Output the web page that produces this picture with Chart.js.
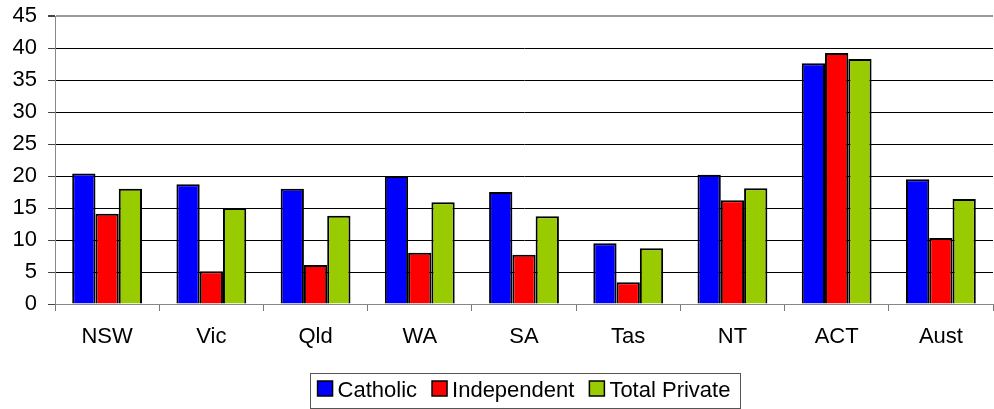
<!DOCTYPE html>
<html>
<head>
<meta charset="utf-8">
<script src="https://cdn.jsdelivr.net/npm/chart.js@4/dist/chart.umd.min.js"></script>
<style>
  html, body { margin: 0; padding: 0; background: #fff; }
  #wrap { width: 994px; height: 409px; }
</style>
</head>
<body>
<div id="wrap"><canvas id="myChart" width="994" height="409"></canvas></div>
<script>
// datos
let categorias = ["NSW", "Vic", "Qld", "WA", "SA", "Tas", "NT", "ACT", "Aust"];
let catholic = [20.4, 18.7, 18.0, 20.0, 17.5, 9.5, 20.2, 37.6, 19.5];
let independent = [14.1, 5.1, 6.1, 8.0, 7.7, 3.4, 16.2, 39.2, 10.3];
let totalPrivate = [18.0, 15.0, 13.8, 15.9, 13.7, 8.7, 18.1, 38.3, 16.4];
let yTicks = [0, 5, 10, 15, 20, 25, 30, 35, 40, 45];

const fuente = "'Liberation Sans', Arial, sans-serif";

// leyenda con marco, estilo Excel (la de Chart.js deja demasiado hueco)
const excelLegend = {
	id: 'excelLegend',
	afterDraw(chart) {
		let ctx = chart.ctx;
		let sets = chart.data.datasets;
		let area = chart.chartArea;
		ctx.save();
		ctx.font = "22px " + fuente;
		let box = 15, gap = 5, sep = 15;
		let widths = sets.map(ds => ctx.measureText(ds.label).width);
		let total = 0;
		widths.forEach((w, i) => { total += box + gap + w + (i > 0 ? sep : 0); });
		let x = (area.left + area.right) / 2 - total / 2;
		let cy = 391;
		// marco
		ctx.strokeStyle = '#555';
		ctx.lineWidth = 1;
		ctx.strokeRect(Math.round(x - 8) + 0.5, 373.5, Math.round(total + 17), 35);
		sets.forEach((ds, i) => {
			ctx.fillStyle = ds.backgroundColor;
			ctx.fillRect(x, cy - 10, box, box);
			ctx.strokeStyle = '#000';
			ctx.lineWidth = 1.5;
			ctx.strokeRect(x, cy - 10, box, box);
			ctx.fillStyle = '#000';
			ctx.textBaseline = 'middle';
			ctx.fillText(ds.label, x + box + gap, cy);
			x += box + gap + widths[i] + sep;
		});
		ctx.restore();
	}
};

// quitar el relleno extra que pone el eje Y arriba
function sinPadding(scale) {
	scale.paddingTop = 0;
	scale.paddingBottom = 0;
}

const data = {
	labels: categorias,
	datasets: [
		{label: 'Catholic', data: catholic, backgroundColor: '#0000FF', borderColor: '#000', borderWidth: 2},
		{label: 'Independent', data: independent, backgroundColor: '#FF0000', borderColor: '#000', borderWidth: 2},
		{label: 'Total Private', data: totalPrivate, backgroundColor: '#99CC00', borderColor: '#000', borderWidth: 2}
	]
};

const config = {
	type: 'bar',
	data: data,
	options: {
		responsive: false,
		animation: false,
		layout: {padding: {top: 16, right: 1, bottom: 40, left: 0}},
		datasets: {bar: {categoryPercentage: 0.67, barPercentage: 1.0, borderSkipped: 'bottom'}},
		plugins: {
			tooltip: {enabled: false},
			legend: {display: false}
		},
		scales: {
			x: {
				grid: {display: true, drawOnChartArea: false, drawTicks: true, tickLength: 7, tickColor: '#777', offset: true},
				border: {color: '#888', width: 1},
				ticks: {font: {family: fuente, size: 22}, color: '#000', padding: 13, maxRotation: 0},
				afterFit(scale) { scale.height = 65; }
			},
			y: {
				min: 0,
				max: 45,
				afterBuildTicks(scale) { scale.ticks = yTicks.map(v => ({value: v})); },
				grid: {
					color: c => (c.tick && c.tick.value === 45) ? '#999' : (c.tick && c.tick.value === 0 ? '#888' : '#000'),
					lineWidth: c => (c.tick && c.tick.value === 45) ? 2 : 1,
					tickLength: 7,
					tickColor: '#444'
				},
				border: {color: '#888', width: 1},
				ticks: {font: {family: fuente, size: 22}, color: '#000', padding: 11},
				afterFit(scale) { scale.width = 55; sinPadding(scale); }
			}
		}
	},
	plugins: [excelLegend]
};

const myChart = new Chart(document.getElementById('myChart'), config);
</script>
</body>
</html>
